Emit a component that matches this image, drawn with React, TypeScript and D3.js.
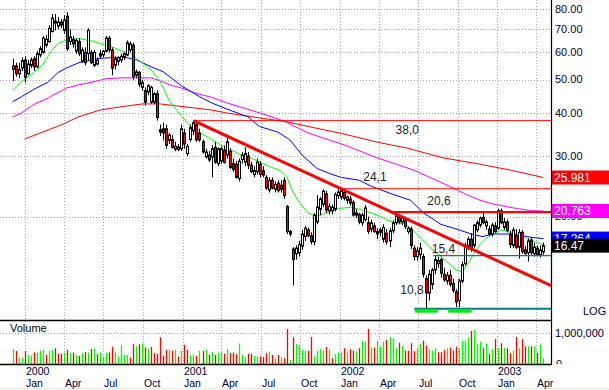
import React from "react";
import * as d3 from "d3";

// weekly candles: open, high, low, close (first week starts 3 Dec 1999)
const START = new Date(1999, 11, 3);
const candles: [number, number, number, number][] = [
  [53.6, 57.5, 49.5, 54.8], [54.8, 56, 51, 52.0], [52, 56, 50.5, 53.5], [54, 58, 53, 56.8], [57, 58.5, 49, 50.7],
  [52, 57, 51.5, 55.5], [55, 58, 54, 57], [57.5, 58.5, 53, 54.5], [54.5, 60.5, 54, 59.5], [59, 62.5, 58, 61.5],
  [60, 67, 59.5, 66], [63, 67.5, 62, 65.5], [64.5, 72, 64, 70.5], [69, 77.5, 68.5, 75.5], [73, 77.5, 69.5, 74],
  [71.5, 76, 70, 73.5], [73.5, 75, 70.5, 72], [69.5, 77, 68, 74.5], [76.5, 78.5, 60.5, 61.5], [64.5, 70, 63, 66.5],
  [65.5, 67, 62, 63.5], [60.5, 66, 59.5, 65], [64.5, 66, 58.5, 59.5], [56.5, 62, 56, 61], [60, 62, 55, 56],
  [59.5, 70.5, 56.8, 69.5], [60, 61, 55.5, 56], [55, 61, 54.5, 60], [55.5, 58, 55, 57], [58.5, 61, 57.5, 59.5],
  [59, 61, 58, 60.5], [60.5, 67, 60, 66], [66, 67, 60, 61], [61, 62, 51.5, 54], [55, 58.5, 53.5, 57.5],
  [56.5, 58.5, 55, 58], [57, 59.5, 56, 58.5], [58, 60, 57, 59.5], [59, 65, 58.5, 64], [61, 64.5, 60, 63.5],
  [63, 64, 50, 51], [51.5, 53.5, 50.5, 52.7], [52.5, 53, 47.5, 48.5], [47.5, 50, 46.5, 49], [46.5, 47.5, 42, 43],
  [46, 48.5, 45, 48], [43, 48, 42.5, 47.5], [43, 46, 42.5, 45.5], [45.5, 46.5, 38, 38.8], [35.2, 37, 34.3, 35.8],
  [36, 37.5, 33.3, 35], [36, 37, 31.5, 32.2], [33.3, 35, 32.5, 34.5], [33.5, 34.5, 31.5, 31.8], [31.4, 33, 31, 32],
  [31.9, 32.5, 31, 31.3], [31.5, 37, 31, 36], [35, 36, 31.5, 32.5], [30.5, 32.5, 30, 32], [33.5, 37, 33, 36.3],
  [35.5, 38.0, 34.5, 37.5], [37, 37.8, 33, 33.4], [35, 36, 33, 33.4], [33, 33.5, 30.5, 30.8], [29.8, 31.5, 29.5, 30.8],
  [30.2, 31, 28.8, 29.2], [29.8, 32.3, 26, 31.5], [31.8, 33, 28.5, 28.8], [28.5, 31.8, 28, 31.5], [29, 32, 28.5, 31.5],
  [31.2, 32.2, 28.5, 28.7], [30.2, 34, 29.5, 33], [31, 31.6, 27.5, 27.8], [28.5, 29.5, 27, 27.4], [28.4, 29, 25.8, 26],
  [25.8, 29.5, 25.3, 29], [29.3, 30.8, 28.5, 30.2], [28.8, 31.8, 28, 30.5], [30, 30.8, 27.5, 28.2], [28.2, 28.8, 26.8, 27],
  [26.5, 28, 26, 27.2], [27, 29.5, 26.5, 28.8], [28.4, 29, 26, 26.5], [27.2, 28, 26, 26.4], [26, 26.4, 23.9, 24.2],
  [23.9, 26, 23.5, 25.5], [25.5, 26, 24, 24.2], [24, 25.3, 23.5, 24.8], [25, 25.5, 23.5, 23.8], [24.7, 25.5, 23.5, 24.0],
  [25.5, 26, 22.5, 23], [21.4, 21.6, 17.8, 18.1], [17.8, 18.3, 17.5, 18.1], [16.1, 16.3, 12.6, 15.0], [15.6, 16.5, 15, 16.2],
  [15.7, 17, 15.3, 16.6], [16.4, 18.3, 16, 17.8], [17.5, 18.8, 17, 18.5], [18.3, 18.6, 17.4, 17.6], [17.6, 18, 16.6, 16.9],
  [16.9, 20.5, 16.5, 20.2], [19.3, 23.1, 19, 21.3], [21, 22.8, 20.2, 22.5], [21.7, 24, 21.3, 23.7], [23.3, 23.8, 20.5, 20.9],
  [20.8, 21.8, 20.3, 21.4], [20.8, 21.7, 20.3, 21.3], [21, 23.5, 20.7, 23.2], [23, 24, 22.5, 23.6], [22.8, 24.1, 22.4, 23.8],
  [23.5, 23.8, 22.3, 22.6], [22.3, 23, 21.8, 22.8], [22.5, 23, 21.5, 21.9], [22, 22.3, 20, 20.2], [20.5, 21, 19.8, 20.2],
  [20.3, 20.5, 19, 19.3], [19.2, 20.5, 18.8, 20.2], [19.6, 21.6, 19.4, 21.2], [19.2, 20, 17.8, 18.1], [18.4, 19.6, 18, 19.2],
  [18.8, 19.2, 17.9, 18.1], [17.8, 18.5, 17.2, 18.1], [18, 18.6, 17.5, 18.3], [17.2, 19, 16.8, 18.6], [17.9, 18.4, 16.6, 16.9],
  [17, 18.5, 16.3, 18.2], [18.2, 19.5, 17.9, 19.2], [19.2, 20.6, 18.9, 20.1], [19.9, 20.3, 19, 19.3], [19.3, 20.1, 18.9, 19.8],
  [19.6, 20, 18.4, 18.7], [18.1, 18.7, 17.8, 18.5], [18.4, 18.7, 16.1, 16.5], [16.2, 16.5, 14.9, 15.3], [15.3, 16.3, 14.9, 15.9],
  [15.5, 16.8, 15, 16.2], [15.3, 15.6, 13.3, 13.6], [13.2, 13.5, 10.8, 12.0], [12, 14, 11.4, 13.6], [12.7, 14.2, 12.3, 14.0],
  [14.0, 15.4, 13.6, 15.0], [14.6, 15.3, 14.2, 14.9], [15.0, 15.2, 13.3, 13.7], [13.6, 14.2, 12.9, 13.1], [13.0, 13.8, 12.7, 13.5],
  [13.5, 14, 12.5, 12.7], [12.8, 13.2, 12.0, 12.2], [12.1, 12.3, 10.9, 11.3], [11.4, 13.2, 10.9, 13.0], [13, 14.8, 12.8, 14.5],
  [14.6, 16.8, 14.4, 16.5], [16.4, 17.5, 16, 17.2], [17.2, 17.9, 15.8, 16.1], [16.5, 19, 16.2, 18.9], [18.3, 19.5, 18, 19.2],
  [18.9, 20, 18.6, 19.8], [19.9, 20.6, 19.0, 19.2], [18.8, 19.6, 18.3, 19.3], [18.4, 18.8, 17.6, 17.8], [17.8, 19.2, 17.5, 18.9],
  [18.8, 19.3, 17.9, 18.1], [18.5, 21.1, 18.3, 20.8], [20.8, 21.1, 19.0, 19.2], [18.6, 19.8, 18.3, 19.3], [19.3, 19.6, 18, 18.2],
  [17.8, 18.2, 16.2, 16.6], [16.5, 18.6, 16.2, 18.3], [17.6, 18.4, 16.1, 16.3], [16.3, 18.4, 15.1, 18.0], [18.0, 18.3, 15.6, 15.8],
  [16.0, 16.4, 15.5, 15.6], [15.7, 17.3, 14.8, 17.0], [17.1, 17.4, 15.5, 15.7], [15.6, 16.8, 15.3, 16.3], [16.2, 16.5, 15.3, 15.5],
  [15.5, 16.5, 15.2, 16.0], [15.8, 16.8, 15.5, 16.47],
];

// weekly volume, millions of shares
const volumes = [
  0.48, 0.42, 0.21, 0.21, 0.42, 0.29, 0.27, 0.37, 0.37, 0.43,
  0.46, 0.29, 0.42, 0.46, 0.51, 0.33, 0.33, 0.37, 0.46, 0.35,
  0.37, 0.29, 0.26, 0.35, 0.39, 0.37, 0.48, 0.50, 0.32, 0.37,
  0.24, 0.35, 0.37, 0.55, 0.37, 0.24, 0.60, 0.29, 0.29, 0.21,
  0.64, 0.57, 0.64, 0.66, 0.53, 0.49, 0.55, 0.35, 0.33, 0.86,
  0.27, 0.46, 0.46, 0.43, 0.46, 0.24, 0.42, 0.62, 0.46, 0.29,
  0.29, 0.26, 0.42, 0.42, 0.46, 0.29, 0.38, 0.29, 0.35, 0.38,
  0.33, 0.48, 0.35, 0.37, 0.32, 0.66, 0.29, 0.22, 0.33, 0.33,
  0.26, 0.24, 0.24, 0.22, 0.35, 0.40, 0.29, 0.18, 0.29, 0.22,
  0.18, 1.13, 0.13, 0.86, 0.65, 0.62,
  0.46, 0.43, 0.43, 0.87, 0.25, 0.43, 0.48, 0.43, 0.55, 0.48,
  0.19, 0.32, 0.37, 0.37, 0.51, 0.37, 0.48, 0.43, 0.41, 0.51,
  0.75, 0.72, 1.13, 0.53, 0.53, 0.75, 0.55, 0.72, 0.78, 0.87,
  0.83, 0.51, 0.69, 0.59, 0.43, 0.43, 0.67, 0.41, 0.51, 0.64,
  0.75, 0.59, 0.48, 0.43, 0.51, 0.38, 0.38, 0.46, 0.51, 0.53,
  0.43, 0.56, 0.51, 0.75, 0.75, 0.85, 1.07, 1.10, 0.64, 0.72,
  0.51, 0.66, 0.32, 0.48, 0.80, 0.51, 0.67, 0.53, 0.51, 0.35,
  0.43, 0.87, 0.51, 0.80, 0.57, 0.57, 0.57, 0.57, 0.35, 0.62,
  0.19,
];

// moving averages: [week, price]
const maGreen: [number, number][] = [
  [0, 46.4], [3, 49.3], [7, 52.4], [10, 55.3], [13, 60.6], [15, 63.6], [18, 65.3], [22, 65.8], [26, 64.9],
  [29, 63.6], [32, 62.8], [36, 60.6], [39, 59.9], [42, 56.8], [46, 53.4], [49, 49.3], [52, 43.4], [56, 39.2],
  [59, 36.6], [62, 35.1], [66, 33.5], [69, 32.3], [72, 31.4], [75, 30.4], [79, 29.6], [82, 28.8], [85, 28.0],
  [89, 27.1], [91, 26.0], [93, 23.6], [95, 22.0], [98, 20.5], [101, 20.0], [104, 20.5], [108, 21.1], [112, 21.3],
  [115, 21.0], [119, 20.5], [122, 20.0], [125, 19.4], [128, 19.1], [130, 19.1], [132, 18.5], [134, 17.8],
  [136, 17.1], [138, 16.4], [141, 15.6], [144, 14.8], [147, 14.0], [149, 13.8], [151, 14.6], [153, 15.6],
  [155, 16.6], [157, 17.3], [160, 17.9], [162, 18.3], [165, 18.0], [168, 17.7], [171, 17.2], [175, 16.7], [176, 16.5],
];
const maBlue: [number, number][] = [
  [0, 43.1], [3, 44.6], [7, 46.8], [12, 49.3], [15, 52.4], [18, 54.1], [22, 56.0], [25, 56.7], [28, 57.5],
  [32, 57.9], [35, 57.9], [38, 57.9], [41, 57.1], [46, 54.5], [50, 52.7], [56, 48.0], [62, 44.6], [66, 42.8],
  [71, 41.1], [78, 39.0], [82, 36.5], [88, 35.2], [92, 33.4], [96, 30.2], [101, 27.6], [105, 26.7], [109, 26.0],
  [115, 25.5], [119, 24.5], [125, 23.4], [132, 22.3], [136, 20.6], [142, 19.0], [148, 18.3], [153, 17.7],
  [156, 17.5], [159, 17.8], [164, 17.8], [168, 17.7], [172, 17.4], [176, 17.264],
];
const maMagenta: [number, number][] = [
  [0, 38.9], [3, 40.0], [7, 42.3], [12, 44.3], [15, 45.8], [18, 47.3], [22, 48.3], [27, 49.3], [31, 50.3],
  [36, 50.6], [46, 50.6], [49, 49.6], [52, 48.3], [56, 47.3], [60, 45.9], [66, 44.4], [71, 42.8], [82, 40.0],
  [90, 37.9], [98, 35.0], [110, 32.3], [121, 29.6], [133, 27.3], [144, 24.7], [150, 23.3], [155, 22.3],
  [160, 21.7], [166, 21.2], [172, 20.8], [176, 20.763],
];
const maRed: [number, number][] = [
  [4, 33.6], [10, 35.2], [16, 36.9], [22, 39.0], [29, 40.8], [36, 41.7], [43, 42.5], [49, 42.5], [55, 41.9],
  [60, 41.4], [66, 40.8], [71, 40.0], [82, 38.7], [91, 37.7], [99, 36.4], [109, 34.9], [121, 32.9], [131, 31.6],
  [143, 29.6], [154, 28.5], [165, 27.3], [176, 25.981],
];

const priceTicks = [20, 30, 40, 50, 60, 70, 80];
const lastValues = [
  { value: 25.981, text: "25.981", color: "#ff0000" },
  { value: 20.763, text: "20.763", color: "#ff00ff" },
  { value: 17.264, text: "17.264", color: "#0000ff" },
  { value: 16.47, text: "16.47", color: "#000000" },
];

// horizontal levels drawn on the chart (week = where the line starts)
const levels = [
  { price: 38.0, week: 60, text: "38,0", labelWeek: 127, dy: 13, color: "#ff0000", width: 1 },
  { price: 24.1, week: 109.3, text: "24,1", labelWeek: 116.3, dy: -8, color: "#ff0000", width: 1 },
  { price: 20.6, week: 126.2, text: "20,6", labelWeek: 137.5, dy: -7, color: "#ff0000", width: 2.2 },
  { price: 15.4, week: 139.5, text: "15,4", labelWeek: 139, dy: -3, color: "#008080", width: 1.2 },
  { price: 10.8, week: 133.2, text: "10,8", labelWeek: 128.6, dy: -15, color: "#008080", width: 2 },
];
const trend = { from: [60, 38.0], to: [178.6, 12.6] };
const bottoms: [number, number][] = [[133.4, 141], [144.5, 152.2]];

const W = 609;
const H = 390;
const RIGHT = 551;
const PRICE_BOTTOM = 320;
const VOL_BOTTOM = 364;
const FONT = "'Liberation Sans', Arial, sans-serif";
const AXIS_COLOR = "#000033";

const weekDate = (w: number) => new Date(START.getTime() + w * 7 * 86400000);
const x = d3.scaleTime().domain([new Date(2000, 0, 1), new Date(2003, 3, 1)]).range([25, 536]);
const xw = (w: number) => x(weekDate(w));
const y = d3.scaleLog().domain([10, 80]).range([320.2, 9.4]);
const yv = d3.scaleLinear().domain([0, 1]).range([VOL_BOTTOM, 333]);

const quarters = d3.timeMonth.every(3)!.range(new Date(2000, 0, 1), new Date(2003, 4, 1));

const maLine = d3
  .line<[number, number]>()
  .x((d) => xw(d[0]))
  .y((d) => y(d[1]));

export default function App() {
  const cx = (i: number) => Math.round(xw(i)) + 0.5;
  const upVol = (i: number) => candles[i][3] >= (i > 0 ? candles[i - 1][3] : candles[i][0]);

  return (
    <div style={{ position: "fixed", left: 0, top: 0, width: W, height: H, background: "#fff" }}>
      <svg width={W} height={H} style={{ display: "block", fontFamily: FONT }}>
        <defs>
          <clipPath id="price-clip">
            <rect x={0} y={0} width={RIGHT} height={PRICE_BOTTOM} />
          </clipPath>
          <clipPath id="vol-axis-clip">
            <rect x={RIGHT} y={PRICE_BOTTOM} width={W - RIGHT} height={VOL_BOTTOM - PRICE_BOTTOM} />
          </clipPath>
        </defs>
        <rect width={W} height={H} fill="#fff" />

        {/* grid */}
        <g stroke="#a8a8a8" strokeWidth={1} strokeDasharray="1,2">
          {priceTicks.map((t) => (
            <line key={t} x1={0} x2={RIGHT} y1={Math.round(y(t)) + 0.5} y2={Math.round(y(t)) + 0.5} />
          ))}
          {quarters.map((d) => (
            <line key={+d} x1={Math.round(x(d)) + 0.5} x2={Math.round(x(d)) + 0.5} y1={0} y2={VOL_BOTTOM} />
          ))}
          <line x1={0} x2={RIGHT} y1={Math.round(yv(1)) + 0.5} y2={Math.round(yv(1)) + 0.5} />
        </g>

        <g clipPath="url(#price-clip)">
          {/* moving averages */}
          <g fill="none" strokeWidth={1}>
            <path d={maLine(maRed) ?? ""} stroke="#ff0000" />
            <path d={maLine(maMagenta) ?? ""} stroke="#ff00ff" />
            <path d={maLine(maBlue) ?? ""} stroke="#0000ff" />
            <path d={maLine(maGreen) ?? ""} stroke="#00ff00" />
          </g>

          {/* candles */}
          {candles.map(([o, h, l, c], i) => {
            const px = cx(i);
            const top = y(Math.max(o, c));
            const bot = y(Math.min(o, c));
            return (
              <g key={i}>
                <line x1={px} x2={px} y1={y(h)} y2={y(l)} stroke="#000" strokeWidth={1} />
                <rect
                  x={px - 1}
                  y={top}
                  width={2}
                  height={Math.max(bot - top, 0.8)}
                  fill={c < o ? "#ff0000" : "#ffffff"}
                  stroke="#000"
                  strokeWidth={1}
                />
              </g>
            );
          })}

          {/* support / resistance levels */}
          {levels.map((lv) => (
            <g key={lv.text}>
              <line x1={xw(lv.week)} x2={RIGHT} y1={y(lv.price)} y2={y(lv.price)} stroke={lv.color} strokeWidth={lv.width} />
              <text x={xw(lv.labelWeek)} y={y(lv.price) + lv.dy} fontSize={12} fill="#222">
                {lv.text}
              </text>
            </g>
          ))}
          <line
            x1={xw(trend.from[0])}
            y1={y(trend.from[1])}
            x2={xw(trend.to[0])}
            y2={y(trend.to[1])}
            stroke="#ff0000"
            strokeWidth={3}
          />
          {bottoms.map(([a, b]) => (
            <rect key={a} x={xw(a)} y={y(10.8) + 0.5} width={xw(b) - xw(a)} height={3.5} fill="#00ee00" />
          ))}
        </g>

        {/* volume */}
        <text x={10} y={332} fontSize={11} fill="#000">Volume</text>
        {volumes.map((v, i) => (
          <line
            key={i}
            x1={cx(i)}
            x2={cx(i)}
            y1={yv(0)}
            y2={yv(v)}
            stroke={upVol(i) ? "#00ff00" : "#ff0000"}
            strokeWidth={1.3}
          />
        ))}

        {/* frame */}
        <g stroke="#000">
          <line x1={0} x2={RIGHT} y1={PRICE_BOTTOM + 0.5} y2={PRICE_BOTTOM + 0.5} strokeWidth={1.5} />
          <line x1={0} x2={RIGHT + 1} y1={VOL_BOTTOM + 0.5} y2={VOL_BOTTOM + 0.5} strokeWidth={1.5} />
          <line x1={RIGHT + 0.5} x2={RIGHT + 0.5} y1={0} y2={VOL_BOTTOM + 1} strokeWidth={1.2} />
        </g>
        <line x1={0} x2={W} y1={388.5} y2={388.5} stroke="#ecebd8" />

        {/* right price axis */}
        {priceTicks.map((t) => (
          <text key={t} x={555} y={y(t)} dy="0.35em" fontSize={11} fill={AXIS_COLOR}>
            {t.toFixed(2)}
          </text>
        ))}
        {lastValues.map((lv) => (
          <g key={lv.text}>
            <rect x={RIGHT + 1} y={y(lv.value) - 7} width={W - RIGHT - 1} height={14} fill={lv.color} />
            <text x={554} y={y(lv.value)} dy="0.36em" fontSize={12} fill="#fff">
              {lv.text}
            </text>
          </g>
        ))}
        <text x={583} y={315} fontSize={11} fill={AXIS_COLOR}>LOG</text>

        {/* volume axis */}
        <text x={555} y={yv(1)} dy="0.35em" fontSize={11} fill={AXIS_COLOR}>1,000,000</text>
        <g clipPath="url(#vol-axis-clip)">
          <text x={556} y={yv(0) + 4} fontSize={11} fill={AXIS_COLOR}>0</text>
        </g>

        {/* time axis */}
        {quarters.map((d) => (
          <g key={+d} fontSize={10.5} fill={AXIS_COLOR}>
            {d.getMonth() === 0 && (
              <text x={Math.round(x(d)) + 1} y={374.5}>{d.getFullYear()}</text>
            )}
            <text x={Math.round(x(d)) + 1} y={386.5}>{d3.timeFormat("%b")(d)}</text>
          </g>
        ))}
      </svg>
    </div>
  );
}
